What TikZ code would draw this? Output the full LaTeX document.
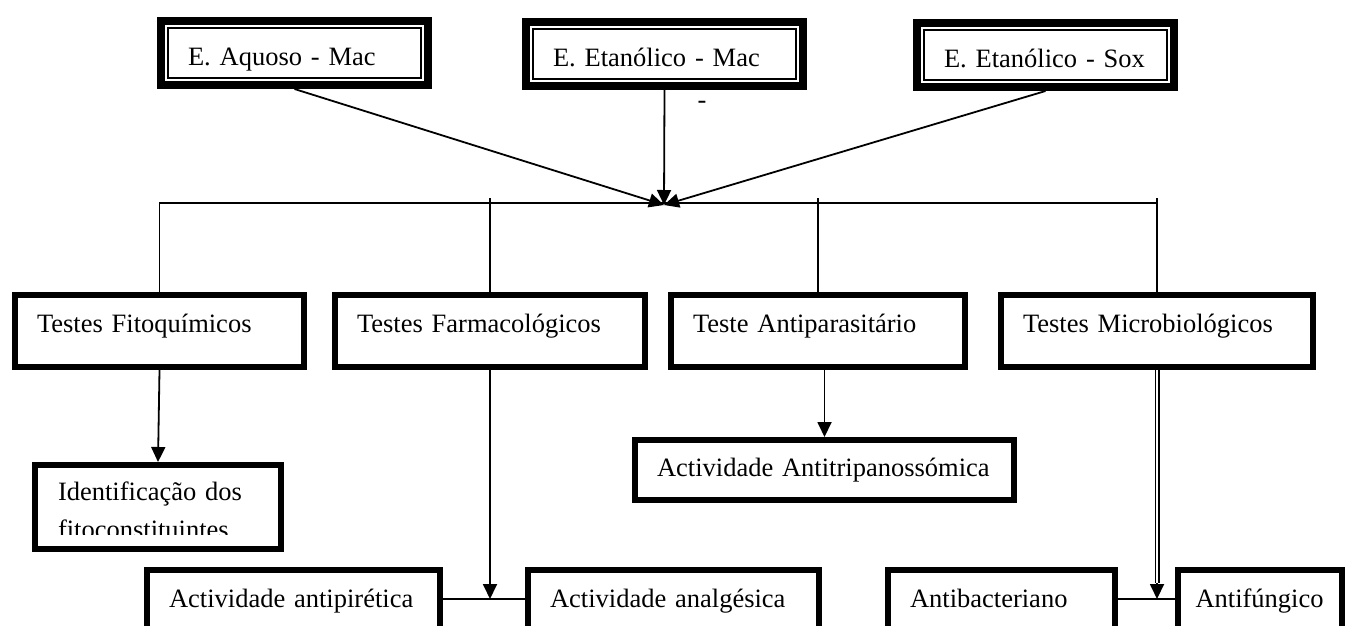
\documentclass[tikz,border=0pt]{standalone}
\usepackage{fontspec}
\setmainfont{Liberation Serif}
\usetikzlibrary{arrows.meta}

\begin{document}
\begin{tikzpicture}[
    x=1pt, y=-1pt,
    every node/.style={font=\fontsize{26.5}{38}\selectfont},
    extract box/.style={draw, line width=8pt, align=left, inner xsep=27pt, inner ysep=0pt,
        text height=30pt, text depth=6pt, minimum height=64pt,
        path picture={\draw[line width=2.4pt]
            ([shift={(7.2pt,-7.2pt)}]path picture bounding box.north west) rectangle
            ([shift={(-7.2pt,7.2pt)}]path picture bounding box.south east);}},
    test box/.style={draw, line width=6pt, align=left, inner xsep=22pt, inner ysep=0pt,
        text height=37pt, text depth=35pt},
    every edge/.style={draw, line width=1.8pt},
    arrow/.style={-{Triangle[length=15pt, width=14pt]}},
    double line/.style={double, line width=1.3pt, double distance=2.4pt}
]

% FIXED BOUNDING BOX (bottom row is cut off)
\clip (0,0) rectangle (1351,625);

% EXTRACTS
\node[extract box, text width=213pt] (aquoso)  at (294.5,53) {E. Aquoso - Mac};
\node[extract box, text width=223pt] (etanmac) at (664.5,54) {E. Etanólico - Mac};
\node[extract box, text width=203pt] (etansox) at (1045.5,55) {E. Etanólico - Sox};
\node[inner sep=0pt] (dash) at (702,105) {-};

% TESTS
\node[test box, text width=245pt] (fito)    at (159.5,331) {Testes Fitoquímicos};
\node[test box, text width=266pt] (farm)    at (490,331)   {Testes Farmacológicos};
\node[test box, text width=250pt] (antipar) at (818,331)   {Teste Antiparasitário};
\node[test box, text width=268pt] (micro)   at (1157,331)  {Testes Microbiológicos};

% RESULTS
\node[test box, text width=200pt, inner xsep=23pt, text height=35pt, text depth=49pt]
    (ident) at (158,507) {Identificação dos\\fitoconstituintes};
\node[test box, text width=335pt, text height=18pt, text depth=6pt, minimum height=60pt]
    (antitrip) at (824.5,470) {Actividade Antitripanossómica};
\node[test box, text width=249pt] (antipir)  at (293.5,606) {Actividade antipirética};
\node[test box, text width=247pt] (analg)    at (673.5,606) {Actividade analgésica};
\node[test box, text width=183pt] (antibac)  at (1001.5,606) {Antibacteriano};
\node[test box, text width=129pt, inner xsep=17.5pt] (antifung) at (1260,606) {Antifúngico};

% second text line is cut by the frame
\fill[white] ([shift={(6pt,17pt)}]ident.south west) rectangle ([shift={(-6pt,6pt)}]ident.south east);

\coordinate (hub) at (664,205);
\coordinate (bus) at (0,203);
\coordinate (top) at (0,198);
\coordinate (fj)  at (490,599);
\coordinate (mk)  at (1157,583);
\coordinate (mj)  at (1157,599);

\path (aquoso.south)  edge[arrow] (hub);
\path (etanmac.south) edge[arrow] (hub);
\path (etansox.south) edge[arrow] (hub);

\draw[line width=1.8pt] (fito.north) |- (micro.north |- bus);
\path (farm.north)    edge (farm.north |- top);
\path (antipar.north) edge (antipar.north |- top);
\path (micro.north)   edge (micro.north |- top);

\path (fito.south) edge[arrow] (ident.north);
\path (farm.south) edge[arrow] (fj);
\path (antitrip.north |- antipar.south) edge[arrow] (antitrip.north);
\path (micro.south) edge[double line] (mk);
\path (mk) edge[arrow] (mj);

\path (antipir.east |- fj) edge (analg.west |- fj);
\path (antibac.east |- mj) edge (antifung.west |- mj);

\end{tikzpicture}
\end{document}
